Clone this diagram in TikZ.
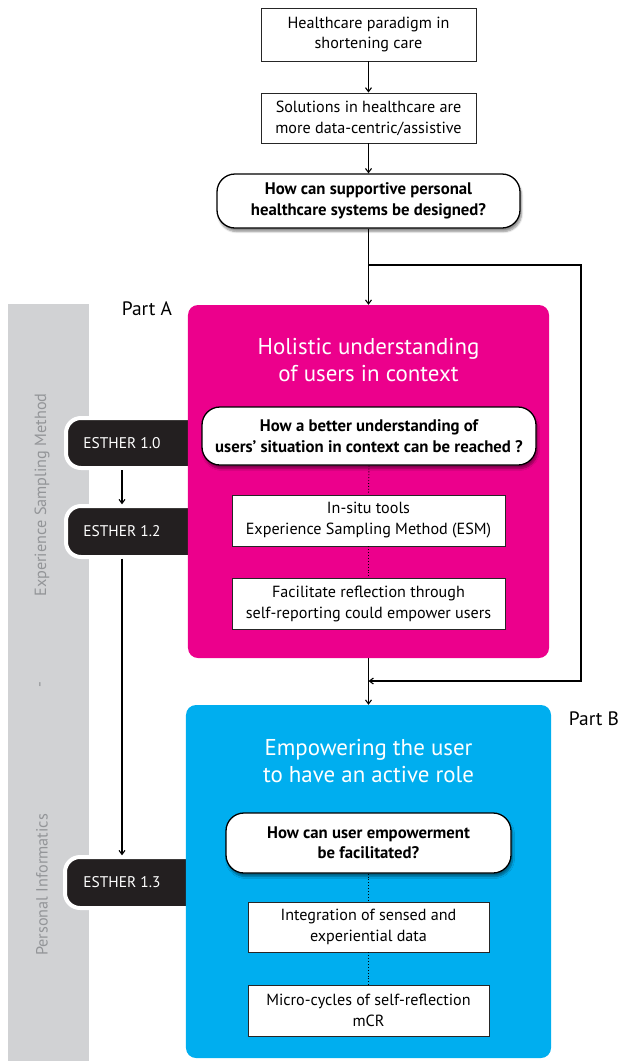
\documentclass[tikz,border=0pt]{standalone}
\usepackage{fontspec}
\setmainfont{PT Sans}
\usetikzlibrary{arrows.meta,shadows.blur}
\definecolor{magentabox}{HTML}{EC008C}
\definecolor{cyanbox}{HTML}{00AEEF}
\definecolor{bandgray}{HTML}{D1D2D4}
\definecolor{bandtext}{HTML}{939598}
\definecolor{tabblack}{HTML}{231F20}
\tikzset{
  plainbox/.style={draw=black!85, line width=0.9bp, fill=white, align=center,
    font=\fontsize{16.2}{21}\selectfont, inner sep=0pt},
  questbox/.style={draw=black, line width=1.3bp, fill=white, rounded corners=18bp,
    align=center, font=\bfseries\fontsize{16.8}{20.5}\selectfont, inner sep=0pt,
    blur shadow={shadow xshift=1.5bp, shadow yshift=-3.5bp, shadow blur steps=6, shadow opacity=45}},
  panel/.style={rounded corners=10bp, inner sep=0pt},
  paneltitle/.style={text=white, align=center, font=\fontsize{23}{28}\selectfont},
  tablabel/.style={text=white, font=\fontsize{15.5}{17}\selectfont, minimum height=50bp, inner sep=0pt},
  tabshape/.style={fill=tabblack, draw=white, line width=4bp, rounded corners=15bp},
  bandlabel/.style={text=bandtext, rotate=90, font=\fontsize{16.3}{19}\selectfont},
  partlabel/.style={font=\fontsize{19.5}{22}\selectfont},
  arr/.style={line width=1.1bp, -{Straight Barb[length=4bp,width=6bp]}},
  dots/.style={line width=0.9bp, dotted}
}
\begin{document}
\begin{tikzpicture}[x=1bp, y=-1bp]
  \useasboundingbox (0,0) rectangle (621,1061);

  % grey band on the left with its vertical captions
  \fill[bandgray] (8,304) rectangle (89,1061);
  \node[bandlabel] (bandesm) at (42,495) {Experience Sampling Method};
  \node[bandlabel] (banddash) at (42,685) {-};
  \node[bandlabel] (bandpi) at (42,885) {Personal Informatics};

  % black ESTHER tabs (their right ends hide under the panels)
  \draw[tabshape] (200,418) -- (66,418) -- (66,468) -- (200,468);
  \draw[tabshape] (200,506) -- (66,506) -- (66,557) -- (200,557);
  \draw[tabshape] (200,857) -- (65,857) -- (65,908) -- (200,908);

  % coloured panels
  \node[panel, fill=magentabox, minimum width=361bp, minimum height=353bp] (pink) at (368.5,481.5) {};
  \node[panel, fill=cyanbox, minimum width=365bp, minimum height=353bp] (blue) at (368.5,881.5) {};

  \node[partlabel] (parta) at (147,309) {Part A};
  \node[partlabel] (partb) at (594,719) {Part B};

  % tab labels
  \node[tablabel] (e10) at (122,443) {ESTHER 1.0};
  \node[tablabel] (e12) at (122,531.5) {ESTHER 1.2};
  \node[tablabel] (e13) at (122,882.5) {ESTHER 1.3};

  % top of the flow
  \node[plainbox, minimum width=215bp, minimum height=53bp] (top1) at (368.5,34.5)
    {Healthcare paradigm in\\shortening care};
  \node[plainbox, minimum width=215bp, minimum height=50bp] (top2) at (368.5,118)
    {Solutions in healthcare are\\more data-centric/assistive};
  \node[questbox, minimum width=303bp, minimum height=54bp] (q1) at (368.5,201)
    {How can supportive personal\\healthcare systems be designed?};

  % Part A contents
  \node[paneltitle] (titlea) at (368.5,360) {Holistic understanding\\of users in context};
  \node[questbox, minimum width=334bp, minimum height=58bp] (q2) at (369,436)
    {How a better understanding of\\users' situation in context can be reached ?};
  \node[plainbox, minimum width=273bp, minimum height=51bp] (a1) at (368.5,520.5)
    {In-situ tools\\Experience Sampling Method (ESM)};
  \node[plainbox, minimum width=273bp, minimum height=51bp] (a2) at (368.5,603.5)
    {Facilitate reflection through\\self-reporting could empower users};

  % Part B contents
  \node[paneltitle] (titleb) at (368.5,761) {Empowering the user\\to have an active role};
  \node[questbox, minimum width=285bp, minimum height=60bp] (q3) at (368.5,843)
    {How can user empowerment\\be facilitated?};
  \node[plainbox, minimum width=241bp, minimum height=50bp] (b1) at (368.5,927)
    {Integration of sensed and\\experiential data};
  \node[plainbox, minimum width=241bp, minimum height=51bp] (b2) at (368.5,1010.5)
    {Micro-cycles of self-reflection\\mCR};

  % connectors
  \draw[arr] (top1) -- (top2);
  \draw[arr] (top2) -- (q1);
  \draw[arr] (q1.south) -- (pink.north);
  \coordinate (split) at (368.5,265);
  \coordinate (corner) at (581,681);
  \coordinate (merge) at (368.5,681);
  \draw[arr] (split) -| (corner) -- (merge);
  \draw[arr] (pink.south) -- (blue.north);

  \draw[dots] (q2.south) -- (a1.north);
  \draw[dots] (a1.south) -- (a2.north);
  \draw[dots] (q3.south) -- (b1.north);
  \draw[dots] (b1.south) -- (b2.north);

  \draw[arr] ([yshift=-2bp]e10.south) -- ([yshift=2bp]e12.north);
  \draw[arr] ([yshift=-2bp]e12.south) -- ([yshift=2bp]e13.north);
\end{tikzpicture}
\end{document}
